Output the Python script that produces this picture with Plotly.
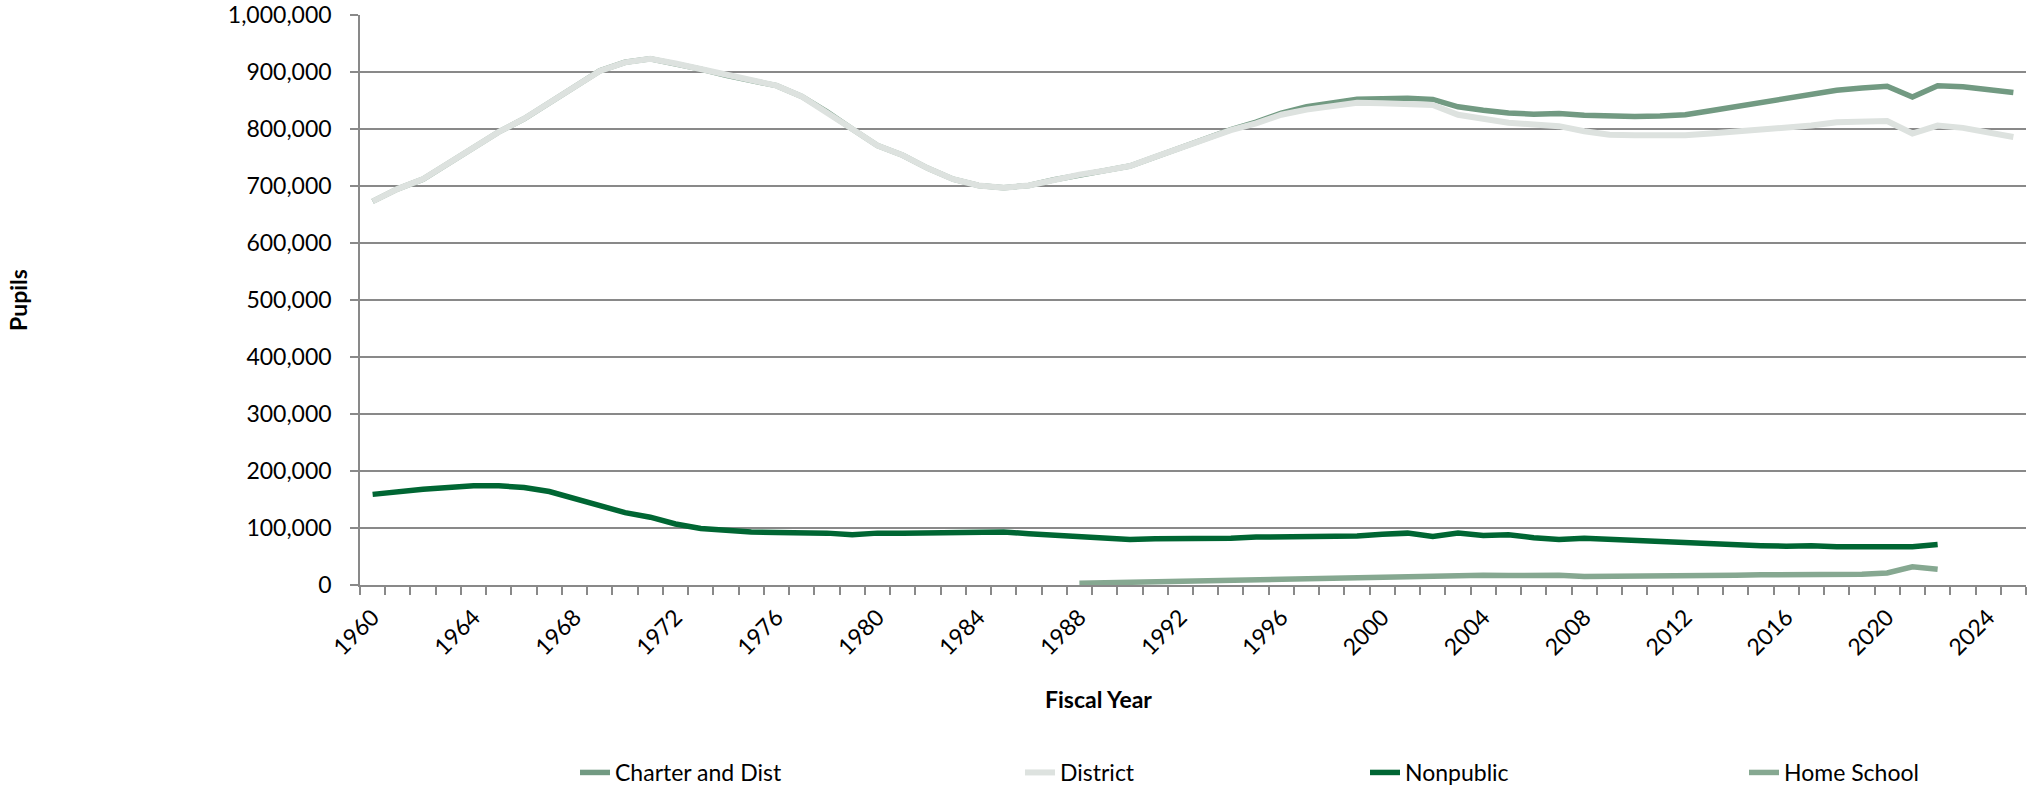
import plotly.graph_objects as go

years = list(range(1960, 2026))

district = [673, 695, 712, 739, 768, 795, 818, 847, 874, 902,
            917, 923, 915, 905, 894, 886, 876, 857, 830, 800,
            771, 754, 731, 712, 701, 697, 701, 711, 720, 727,
            735, 751, 767, 784, 798, 810, 825, 834, 840, 846,
            845, 844, 842, 825, 818, 811, 808, 805, 796, 790,
            789, 789, 789, 792, 795, 798, 801, 806, 812, 814,
            814, 792, 806, 802, 795, 786]

charter_and_dist = [673, 695, 712, 739, 768, 795, 818, 847, 874, 902,
                    917, 923, 915, 905, 894, 886, 876, 857, 830, 800,
                    771, 754, 731, 712, 701, 697, 701, 711, 720, 727,
                    735, 751, 767, 784, 799, 812, 828, 839, 846, 852,
                    853, 854, 852, 839, 833, 828, 826, 827, 824, 822,
                    822, 823, 825, 832, 839, 846, 852, 861, 868, 872,
                    875, 856, 876, 874, 870, 864]

nonpublic_years = list(range(1960, 2023))
nonpublic = [159, 164, 168, 171, 174, 174, 171, 164, 152, 139,
             127, 119, 107, 99, 95, 93, 92, 92, 91, 88,
             91, 91, 92, 93, 93, 93, 90, 87, 84, 82,
             80, 81, 81, 81, 82, 84, 84, 84, 85, 86,
             89, 91, 85, 91, 87, 88, 83, 80, 82, 80,
             78, 75, 74, 72, 70, 69, 68, 69, 67, 67,
             67, 67, 71]

home_years = list(range(1988, 2023))
home_school = [3, 4, 5, 6, 7, 8, 9, 10, 11, 12, 13, 14,
               14, 15, 15, 16, 17, 16.5, 17, 17, 15, 15,
               16, 16, 16, 17, 17, 18, 18, 19, 19, 19,
               21, 32, 27.5]

tick_years = list(range(1960, 2025, 4))

C_CHARTER = "#729A82"
C_DISTRICT = "#DDE2DF"
C_NONPUB = "#006633"
C_HOME = "#86A891"
GRID = "#898989"
FONT = "Lato"
LW = 5.5

W, H = 2029, 786
ML, MR, MT, MB = 360, 3, 15, 201
pw = W - ML - MR
ph = H - MT - MB

def k(v):
    return [x * 1000 for x in v]

fig = go.Figure()
fig.add_trace(go.Scatter(x=years, y=k(charter_and_dist), mode="lines",
                         name="Charter and Dist", line=dict(color=C_CHARTER, width=LW),
                         legend="legend"))
fig.add_trace(go.Scatter(x=years, y=k(district), mode="lines",
                         name="District", line=dict(color=C_DISTRICT, width=LW + 0.5),
                         legend="legend2"))
fig.add_trace(go.Scatter(x=nonpublic_years, y=k(nonpublic), mode="lines",
                         name="Nonpublic", line=dict(color=C_NONPUB, width=LW),
                         legend="legend3"))
fig.add_trace(go.Scatter(x=home_years, y=k(home_school), mode="lines",
                         name="Home School", line=dict(color=C_HOME, width=LW),
                         legend="legend4"))

def legend_at(px_left):
    return dict(x=(px_left - ML) / pw, y=(MT + ph - 772.5) / ph, xanchor="left",
                yanchor="middle", orientation="h", bgcolor="rgba(0,0,0,0)",
                font=dict(family=FONT, size=23, color="#000000"))

fig.update_layout(
    width=W, height=H,
    margin=dict(l=ML, r=MR, t=MT, b=MB, autoexpand=False),
    paper_bgcolor="white", plot_bgcolor="white",
    font=dict(family=FONT, size=23, color="#000000"),
    showlegend=True,
    legend=legend_at(575),
    legend2=legend_at(1020),
    legend3=legend_at(1365),
    legend4=legend_at(1744),
    xaxis=dict(
        type="linear", range=[1959.5, 2025.5], automargin=False,
        tickvals=tick_years, ticktext=[str(y) for y in tick_years],
        tickangle=-45, ticks="outside", ticklen=8, tickcolor="rgba(0,0,0,0)",
        showgrid=False, zeroline=False,
        showline=True, linecolor=GRID, linewidth=1.5,
        tickfont=dict(family=FONT, size=23, color="#000000"),
        minor=dict(tick0=1959.5, dtick=1, ticks="outside", ticklen=8,
                   tickcolor=GRID, tickwidth=1.5, showgrid=False),
    ),
    yaxis=dict(
        range=[0, 1000000], dtick=100000, tickformat=",", automargin=False,
        ticks="outside", ticklen=8, tickcolor=GRID, tickwidth=1.5,
        showgrid=True, gridcolor=GRID, gridwidth=1.5,
        zeroline=False, showline=True, linecolor=GRID, linewidth=1.5,
        tickfont=dict(family=FONT, size=23, color="#000000"),
        ticklabelstandoff=14,
    ),
    annotations=[
        dict(text="<b>Fiscal Year</b>", xref="paper", yref="paper",
             x=(1098 - ML) / pw, y=(MT + ph - 699) / ph, xanchor="center", yanchor="middle",
             showarrow=False, font=dict(family=FONT, size=23, color="#000000")),
        dict(text="<b>Pupils</b>", xref="paper", yref="paper",
             x=(18 - ML) / pw, y=0.5, xanchor="center", yanchor="middle", textangle=-90,
             showarrow=False, font=dict(family=FONT, size=23, color="#000000")),
    ],
)

fig.write_html("out.html")
